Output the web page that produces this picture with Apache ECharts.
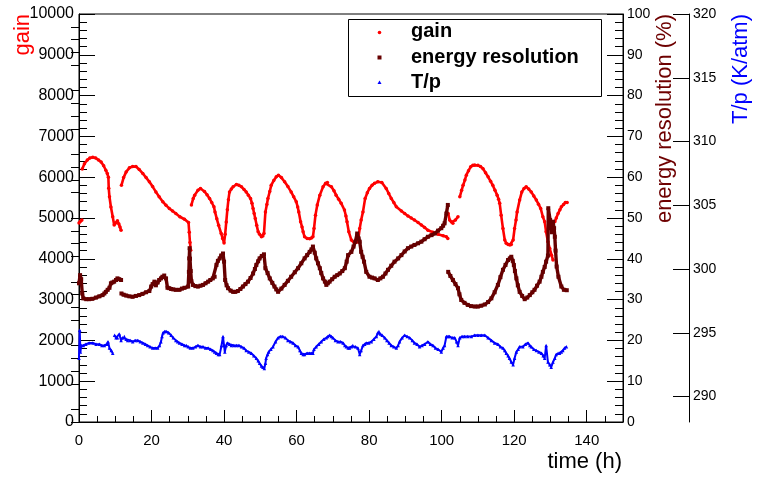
<!DOCTYPE html>
<html>
<head>
<meta charset="utf-8">
<script src="https://cdn.jsdelivr.net/npm/echarts@6.0.0/dist/echarts.min.js"></script>
<style>
html,body{margin:0;padding:0;background:#fff;}
#chart{width:757px;height:477px;}
</style>
</head>
<body>
<div id="chart"></div>
<script>
// ---- data: [time (h), value]; null value = gap in the recorded curve ----
const gain = [
[0.0,4880],[0.4,4920],[0.8,4950],[0.8,null],
[0.9,6200],[1.5,6330],[2.3,6420],[3.0,6470],[3.8,6490],[4.6,6470],[5.4,6420],[6.1,6370],[6.8,6280],[7.4,6170],[7.8,6090],[8.1,6000],[8.2,5730],[8.4,5520],[8.8,5270],[9.3,5030],[9.7,4830],[10.1,4880],[10.6,4930],[11.0,4850],[11.3,4780],[11.6,4700],[11.6,null],
[11.7,5800],[12.3,5990],[13.0,6130],[13.9,6230],[14.8,6260],[15.7,6260],[16.6,6190],[17.6,6090],[18.5,5990],[19.4,5890],[20.3,5770],[21.2,5640],[22.1,5520],[23.1,5400],[24.0,5310],[24.9,5235],[25.8,5170],[26.7,5110],[27.8,5030],[29.1,4970],[30.2,4890],[30.4,4650],[30.6,4400],[30.8,4210],[30.8,null],
[31.0,5320],[31.5,5480],[31.9,5560],[32.8,5680],[33.5,5725],[34.6,5650],[35.3,5570],[36.0,5480],[36.6,5380],[37.2,5275],[37.5,5150],[38.0,4980],[38.5,4820],[39.2,4620],[39.6,4500],[40.0,4390],[40.3,4600],[40.6,4900],[40.9,5200],[41.2,5450],[41.5,5640],[42.0,5710],[42.5,5765],[43.4,5820],[44.1,5800],[44.8,5765],[45.5,5700],[46.1,5640],[46.7,5560],[47.3,5480],[47.7,5360],[48.0,5235],[48.3,5110],[48.6,4990],[49.0,4820],[49.4,4660],[49.8,4600],[50.3,4540],[50.7,4560],[51.0,4620],[51.4,5150],[51.8,5330],[52.1,5480],[52.6,5650],[53.0,5800],[53.7,5920],[54.4,6010],[55.0,6050],[55.8,5990],[56.7,5890],[57.6,5770],[58.5,5640],[59.2,5520],[59.9,5400],[60.3,5270],[60.6,5150],[61.1,4910],[61.5,4780],[61.8,4660],[62.2,4540],[62.9,4500],[63.6,4490],[64.1,4510],[64.5,4540],[64.8,4740],[65.2,5070],[65.7,5320],[66.4,5560],[67.3,5765],[68.0,5850],[68.5,5870],[69.6,5765],[70.3,5670],[70.9,5560],[71.6,5460],[72.3,5360],[73.2,5195],[73.6,5050],[73.9,4910],[74.4,4660],[75.1,4460],[76.0,4380],[76.9,4420],[77.4,4740],[77.8,4950],[78.3,5150],[78.9,5480],[79.5,5620],[80.1,5725],[80.8,5800],[81.5,5850],[82.4,5890],[83.5,5870],[84.7,5725],[85.4,5600],[86.1,5480],[86.8,5380],[87.5,5275],[88.9,5170],[89.8,5110],[90.7,5050],[91.6,5000],[92.5,4950],[93.5,4890],[94.4,4830],[95.3,4770],[96.2,4700],[97.6,4650],[99.0,4600],[100.4,4565],[101.3,4540],[101.7,4500],[101.7,null],
[101.8,5110],[102.2,4950],[102.7,4900],[103.1,4870],[103.8,4950],[104.5,5030],[104.5,null],
[105.0,5520],[105.5,5680],[105.9,5800],[106.4,5930],[106.8,6050],[107.4,6160],[108.0,6255],[108.6,6290],[109.1,6300],[110.0,6290],[110.7,6260],[111.4,6210],[112.1,6110],[112.8,6010],[113.5,5900],[114.1,5800],[114.7,5680],[115.3,5560],[115.7,5460],[116.0,5360],[116.4,5070],[116.9,4740],[117.4,4460],[117.8,4380],[118.3,4350],[118.8,4340],[119.2,4350],[119.7,4460],[120.1,4740],[120.5,4950],[120.8,5150],[121.5,5440],[122.1,5640],[122.7,5720],[123.3,5765],[124.0,5710],[124.7,5640],[125.4,5540],[126.1,5440],[126.7,5340],[127.3,5235],[127.9,5030],[128.4,4910],[128.8,4660],[129.3,4420],[129.8,4250],[130.3,4090],[130.7,3970],[130.7,null],
[131.2,4910],[131.6,5000],[132.1,5110],[132.6,5200],[133.0,5275],[133.6,5330],[134.1,5380],[134.6,5380]
];

const energyResolution = [
[0.0,34.0],[0.3,36.0],[0.6,35.0],[0.9,31.5],[1.2,30.3],[2.0,30.1],[2.8,30.1],[3.7,30.2],[4.7,30.5],[5.6,30.8],[6.5,31.1],[7.0,31.5],[7.4,31.9],[7.9,32.4],[8.4,32.9],[8.8,34.0],[9.2,34.2],[9.7,34.4],[10.2,34.8],[10.6,35.2],[11.1,35.0],[11.6,34.8],[11.6,null],
[11.7,31.5],[12.3,31.2],[13.0,31.0],[13.9,30.8],[14.8,30.7],[15.7,30.9],[16.6,31.1],[17.5,31.4],[18.5,31.8],[19.4,32.1],[19.9,33.2],[20.3,33.8],[20.8,34.4],[21.2,33.5],[21.7,34.2],[22.1,34.8],[22.6,35.2],[23.0,35.6],[23.5,35.9],[24.0,35.2],[24.4,32.9],[24.9,32.8],[25.4,32.6],[26.0,32.5],[26.7,32.4],[27.7,32.4],[28.4,32.7],[29.1,32.9],[30.1,33.2],[30.3,36.8],[30.4,40.1],[30.5,42.6],[30.6,40.0],[30.8,37.0],[31.0,34.5],[31.4,33.6],[32.1,33.3],[32.8,33.2],[33.5,33.4],[34.2,33.6],[34.9,34.0],[35.6,34.4],[36.2,34.8],[36.9,35.2],[37.4,35.6],[37.9,38.5],[38.3,39.5],[38.8,40.1],[39.2,40.8],[39.7,41.3],[40.0,39.3],[40.3,34.8],[40.7,33.5],[41.1,32.8],[41.8,32.2],[42.5,31.9],[43.1,31.9],[43.8,32.1],[44.5,32.6],[45.2,33.2],[45.9,33.8],[46.6,34.4],[47.3,35.3],[48.0,36.4],[48.5,37.5],[48.9,38.5],[49.4,39.4],[49.8,40.1],[50.4,40.7],[51.0,41.1],[51.4,37.7],[52.0,36.5],[52.6,35.2],[53.3,34.1],[53.9,33.2],[54.4,32.5],[54.9,31.9],[55.8,32.7],[56.7,33.6],[57.6,34.6],[58.5,35.6],[59.5,36.7],[60.4,37.7],[61.3,38.9],[62.2,40.1],[62.9,40.9],[63.6,41.7],[64.1,42.3],[64.5,43.0],[65.0,41.5],[65.4,40.1],[65.9,38.9],[66.4,37.7],[66.8,36.5],[67.3,35.2],[67.8,34.4],[68.2,33.6],[68.6,34.0],[69.1,34.4],[69.8,35.0],[70.5,35.6],[71.2,36.0],[71.9,36.4],[72.6,37.0],[73.3,37.7],[73.8,39.3],[74.2,40.9],[75.1,41.7],[75.7,43.0],[76.2,44.2],[76.7,46.2],[77.1,45.0],[77.4,44.2],[77.8,41.7],[78.2,40.5],[78.6,39.3],[79.2,36.8],[80.1,35.6],[80.8,35.4],[81.5,35.2],[82.4,34.8],[83.1,35.2],[83.8,35.6],[84.5,36.4],[85.2,37.3],[86.1,38.3],[87.0,39.3],[88.0,40.1],[88.9,40.9],[89.8,41.8],[90.7,42.6],[91.6,43.0],[92.5,43.4],[93.5,43.8],[94.4,44.2],[95.3,44.8],[96.2,45.4],[97.2,45.8],[98.1,46.2],[99.0,46.9],[99.9,47.5],[100.4,48.1],[100.8,48.7],[101.3,51.1],[101.7,53.2],[101.7,null],
[101.8,36.8],[102.4,35.8],[103.1,34.8],[103.8,33.8],[104.5,32.8],[104.9,31.3],[105.4,29.9],[106.3,29.2],[107.2,28.7],[108.1,28.4],[109.1,28.3],[110.0,28.3],[110.9,28.5],[111.9,28.8],[112.8,29.4],[113.7,30.3],[114.6,31.8],[115.5,33.6],[116.2,35.5],[116.9,37.3],[117.6,38.5],[118.3,39.7],[118.8,40.1],[119.2,40.5],[119.6,39.5],[119.9,38.5],[120.2,37.0],[120.6,35.2],[121.0,33.5],[121.5,31.9],[122.2,30.9],[122.9,30.1],[123.6,30.5],[124.3,31.1],[125.0,31.8],[125.6,32.4],[126.3,33.4],[127.0,34.4],[127.5,35.6],[127.9,36.8],[128.4,38.0],[128.8,39.3],[129.3,40.8],[129.4,52.4],[129.9,49.5],[130.4,46.5],[130.7,49.1],[131.0,47.5],[131.2,45.4],[131.4,42.0],[131.7,38.1],[132.2,35.6],[133.0,33.2],[133.7,32.4],[134.5,32.3]
];

const tOverP = [
[0.0,293.0],[0.2,295.2],[0.4,293.5],[0.6,294.0],[1.2,294.0],[1.9,294.1],[2.8,294.2],[3.8,294.2],[4.7,294.1],[5.6,294.1],[6.3,294.0],[7.0,294.0],[7.7,294.1],[8.0,294.3],[8.4,293.8],[8.9,293.6],[9.3,293.4],[9.3,null],
[9.8,294.8],[10.2,294.6],[10.6,294.6],[11.1,294.9],[11.6,294.4],[12.0,294.6],[12.5,294.7],[13.0,294.5],[13.4,294.4],[14.1,294.4],[14.8,294.3],[15.5,294.4],[16.2,294.4],[16.9,294.3],[17.6,294.2],[18.3,294.1],[18.9,294.0],[19.6,293.9],[20.3,293.8],[21.0,293.8],[21.7,293.8],[22.2,294.0],[22.6,294.3],[22.9,294.7],[23.2,295.0],[23.6,295.1],[24.0,295.1],[24.7,295.0],[25.4,294.8],[26.0,294.6],[26.7,294.4],[27.2,294.3],[27.7,294.2],[28.4,294.1],[29.1,294.0],[29.6,294.0],[30.1,293.9],[30.7,293.8],[31.4,293.8],[32.1,293.9],[32.8,294.0],[33.5,293.9],[34.2,293.9],[34.9,293.8],[35.6,293.8],[36.3,293.7],[36.9,293.6],[37.4,293.5],[37.9,293.4],[38.4,293.3],[38.8,293.3],[39.3,294.0],[39.7,294.7],[40.0,294.0],[40.2,293.5],[40.6,294.0],[40.9,294.2],[41.5,294.1],[42.0,294.0],[42.7,294.0],[43.4,294.0],[44.1,294.0],[44.8,293.9],[45.5,293.8],[46.1,293.6],[46.8,293.5],[47.5,293.4],[48.2,293.2],[48.9,293.0],[49.4,292.8],[49.8,292.6],[50.3,292.4],[50.7,292.3],[51.1,292.2],[51.4,292.6],[51.6,293.0],[52.0,293.3],[52.3,293.5],[52.9,293.7],[53.5,293.9],[54.2,294.3],[54.9,294.6],[55.5,294.7],[56.2,294.7],[56.9,294.6],[57.6,294.4],[58.3,294.3],[59.0,294.2],[59.7,294.0],[60.4,293.9],[60.9,293.6],[61.3,293.4],[61.8,293.3],[62.2,293.3],[62.9,293.4],[63.6,293.4],[64.1,293.4],[64.5,293.4],[64.8,293.7],[65.4,293.9],[66.1,294.1],[66.8,294.3],[67.5,294.5],[68.2,294.6],[68.6,294.7],[69.1,294.8],[69.6,294.7],[70.0,294.6],[70.7,294.4],[71.4,294.3],[72.1,294.3],[72.8,294.2],[73.3,294.0],[73.7,293.9],[74.2,293.8],[74.6,293.8],[75.1,293.9],[75.5,294.0],[76.2,293.9],[76.9,293.8],[77.4,293.3],[77.8,293.6],[78.3,294.0],[78.8,294.1],[79.2,294.2],[79.9,294.2],[80.6,294.3],[81.3,294.5],[82.0,294.7],[82.4,295.0],[82.7,295.1],[83.1,294.9],[83.6,294.8],[84.3,294.6],[84.9,294.4],[85.5,294.2],[86.1,294.0],[86.8,293.9],[87.5,293.8],[88.0,294.0],[88.4,294.3],[89.1,294.6],[89.8,294.8],[90.5,294.7],[91.2,294.6],[91.9,294.4],[92.5,294.2],[93.2,294.1],[93.9,293.9],[94.6,294.0],[95.3,294.1],[96.2,294.3],[96.9,294.1],[97.6,294.0],[98.3,293.8],[99.0,293.7],[99.9,293.5],[100.4,293.8],[100.8,294.0],[101.3,294.7],[101.8,294.7],[102.2,294.7],[102.9,294.6],[103.6,294.6],[104.1,294.3],[104.5,294.0],[105.0,294.6],[105.6,294.7],[106.3,294.7],[107.2,294.7],[108.2,294.7],[109.1,294.8],[110.0,294.8],[110.9,294.8],[111.9,294.8],[112.8,294.6],[113.7,294.4],[114.6,294.2],[115.5,294.1],[116.2,293.9],[116.9,293.8],[117.4,293.6],[117.8,293.4],[118.3,293.2],[118.7,293.0],[119.2,292.7],[119.7,292.5],[120.1,293.0],[120.6,293.5],[121.1,293.7],[121.5,293.9],[122.4,293.9],[123.1,294.1],[123.8,294.2],[124.3,294.0],[124.7,293.9],[125.4,293.7],[126.1,293.6],[126.8,293.5],[127.5,293.4],[128.0,293.2],[128.4,293.0],[128.8,294.0],[129.3,292.7],[129.8,292.5],[130.2,292.3],[130.7,292.7],[131.2,293.0],[131.6,293.3],[132.1,293.4],[132.5,293.4],[133.0,293.5],[133.4,293.6],[133.9,293.8],[134.4,293.9]
];

// axis tick values for the T/p axis
const tpMajorTicks = [290,295,300,305,310,315,320];
const tpMinorTicks = [288,289,291,292,293,294,296,297,298,299,301,302,303,304,306,307,308,309,311,312,313,314,316,317,318,319];

const seriesNames = ['gain','energy resolution','T/p'];
const colGain = '#ff0000', colER = '#660000', colTP = '#0000ff';
const FONT = '"Liberation Sans", Arial, Helvetica, sans-serif';

const chart = echarts.init(document.getElementById('chart'), null, {renderer:'canvas'});

const axisBase = {
  axisLine:{show:true, onZero:false, lineStyle:{color:'#000', width:1}},
  splitLine:{show:false}
};

const option = {
  animation:false,
  backgroundColor:'#fff',
  grid:{left:79, right:134, top:14, bottom:55, show:true, borderColor:'#000', borderWidth:1, backgroundColor:'transparent'},
  xAxis:{
    type:'value', min:0, max:150, interval:20,
    ...axisBase,
    axisTick:{show:true, inside:true, length:12, lineStyle:{color:'#000'}},
    minorTick:{show:true, splitNumber:4, length:6, lineStyle:{color:'#000'}},
    axisLabel:{fontFamily:FONT, fontSize:15, color:'#000', margin:11, showMaxLabel:false}
  },
  yAxis:[
    {
      type:'value', position:'left', min:0, max:10000, interval:1000,
      ...axisBase,
      axisTick:{show:true, inside:true, length:16, lineStyle:{color:'#000'}},
      minorTick:{show:true, splitNumber:5, length:8, lineStyle:{color:'#000'}},
      axisLabel:{fontFamily:FONT, fontSize:16, color:'#000', margin:5, formatter:v=>String(v)}
    },
    {
      type:'value', position:'right', offset:0, min:0, max:100, interval:10,
      ...axisBase,
      axisTick:{show:true, inside:true, length:16, lineStyle:{color:'#000'}},
      minorTick:{show:true, splitNumber:5, length:8, lineStyle:{color:'#000'}},
      axisLabel:{fontFamily:FONT, fontSize:14, color:'#000', margin:4}
    },
    {
      type:'value', position:'right', offset:66, min:288, max:320,
      ...axisBase,
      axisTick:{show:true, inside:true, length:16, customValues:tpMajorTicks, lineStyle:{color:'#000'}},
      axisLabel:{fontFamily:FONT, fontSize:14, color:'#000', margin:4, customValues:tpMajorTicks}
    },
    {
      type:'value', position:'right', offset:66, min:288, max:320,
      axisLine:{show:false}, splitLine:{show:false},
      axisTick:{show:true, inside:true, length:8, customValues:tpMinorTicks, lineStyle:{color:'#000'}},
      axisLabel:{show:false, customValues:tpMinorTicks}
    }
  ],
  series:[
    {
      name:seriesNames[0], type:'line', yAxisIndex:0, data:gain, connectNulls:false,
      symbol:'circle', symbolSize:3.5, showSymbol:true, showAllSymbol:true,
      itemStyle:{color:colGain}, lineStyle:{color:colGain, width:2.6}, z:3
    },
    {
      name:seriesNames[1], type:'line', yAxisIndex:1, data:energyResolution, connectNulls:false,
      symbol:'rect', symbolSize:4, showSymbol:true, showAllSymbol:true,
      itemStyle:{color:colER}, lineStyle:{color:colER, width:3.4}, z:4
    },
    {
      name:seriesNames[2], type:'line', yAxisIndex:2, data:tOverP, connectNulls:false,
      symbol:'triangle', symbolSize:3.5, showSymbol:true, showAllSymbol:true,
      itemStyle:{color:colTP}, lineStyle:{color:colTP, width:2}, z:5
    }
  ],
  graphic:[
    {type:'text', x:23, y:14, rotation:Math.PI/2, style:{text:'gain', fill:colGain, font:'22px '+FONT, align:'right', verticalAlign:'middle'}},
    {type:'text', x:665, y:14, rotation:Math.PI/2, style:{text:'energy resolution (%)', fill:'#6e0000', font:'22px '+FONT, align:'right', verticalAlign:'middle'}},
    {type:'text', x:741, y:14, rotation:Math.PI/2, style:{text:'T/p (K/atm)', fill:colTP, font:'22px '+FONT, align:'right', verticalAlign:'middle'}},
    {type:'text', x:622, y:462, style:{text:'time (h)', fill:'#000', font:'22px '+FONT, align:'right', verticalAlign:'middle'}},
    // legend box
    {type:'rect', shape:{x:348.5, y:19.5, width:253, height:77}, style:{fill:'#fff', stroke:'#000', lineWidth:1}, z:10},
    {type:'circle', shape:{cx:379.5, cy:32.5, r:1.8}, style:{fill:colGain}, z:11},
    {type:'rect', shape:{x:377.5, y:55.5, width:4, height:4}, style:{fill:colER}, z:11},
    {type:'polygon', shape:{points:[[379.5,80.5],[381.5,84],[377.5,84]]}, style:{fill:colTP}, z:11},
    {type:'text', x:411, y:31.5, style:{text:seriesNames[0], fill:'#000', font:'bold 20px '+FONT, verticalAlign:'middle'}, z:11},
    {type:'text', x:411, y:57, style:{text:seriesNames[1], fill:'#000', font:'bold 20px '+FONT, verticalAlign:'middle'}, z:11},
    {type:'text', x:411, y:82.5, style:{text:seriesNames[2], fill:'#000', font:'bold 20px '+FONT, verticalAlign:'middle'}, z:11}
  ]
};
chart.setOption(option);
</script>
</body>
</html>
